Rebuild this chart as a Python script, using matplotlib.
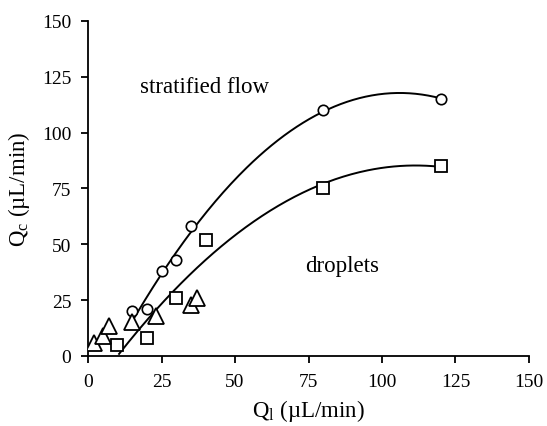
import numpy as np
from matplotlib import pyplot as plt

# data
circle_x = [15, 20, 25, 30, 35, 80, 120]
circle_y = [20, 21, 38, 43, 58, 110, 115]
square_x = [10, 20, 30, 40, 80, 120]
square_y = [5, 8, 26, 52, 75, 85]
triangle_x = [2, 5, 7, 15, 23, 35, 37]
triangle_y = [6, 9, 13.5, 15, 18, 23, 26]

ticks = [0, 25, 50, 75, 100, 125, 150]

plt.rcParams['font.family'] = ['Liberation Serif', 'DejaVu Serif']
plt.rcParams['mathtext.fontset'] = 'custom'
plt.rcParams['mathtext.rm'] = 'Liberation Serif'
plt.rcParams['mathtext.it'] = 'Liberation Serif:italic'

fig = plt.figure(figsize=(5.47, 4.27), dpi=100)
ax = fig.add_axes([0.161, 0.164, 0.806, 0.785])

# second-order trendlines
for xs, ys, x0 in [(circle_x, circle_y, 14), (square_x, square_y, 10)]:
    c = np.polyfit(xs, ys, 2)
    xx = np.linspace(x0, max(xs), 200)
    yy = np.polyval(c, xx)
    keep = yy >= 0
    ax.plot(xx[keep], yy[keep], color='black', lw=1.4, zorder=2)

ax.plot(circle_x, circle_y, 'o', mfc='white', mec='black', ms=7.5, mew=1.2, zorder=3)
ax.plot(square_x, square_y, 's', mfc='white', mec='black', ms=9, mew=1.3, zorder=3)
ax.plot(triangle_x, triangle_y, '^', mfc='white', mec='black', ms=11, mew=1.3, zorder=3)

ax.text(17.7, 118, 'stratified flow', fontsize=16.5, va='baseline', ha='left')
ax.text(73.8, 38, 'droplets', fontsize=16.5, va='baseline', ha='left')

ax.set_xlim(0, 150)
ax.set_ylim(0, 150)
ax.set_xticks(ticks)
ax.set_yticks(ticks)
ax.tick_params(direction='out', length=5, width=1.3, labelsize=14)
ax.tick_params(axis='x', pad=7)
ax.tick_params(axis='y', pad=7)
for s in ['top', 'right']:
    ax.spines[s].set_visible(False)
for s in ['left', 'bottom']:
    ax.spines[s].set_linewidth(1.3)

ax.set_xlabel(r'Q$_\mathrm{l}$ (µL/min)', fontsize=16.5, labelpad=5)
ax.set_ylabel(r'Q$_\mathrm{c}$ (µL/min)', fontsize=16.5, labelpad=7)

fig.savefig('out.png', dpi=100)
